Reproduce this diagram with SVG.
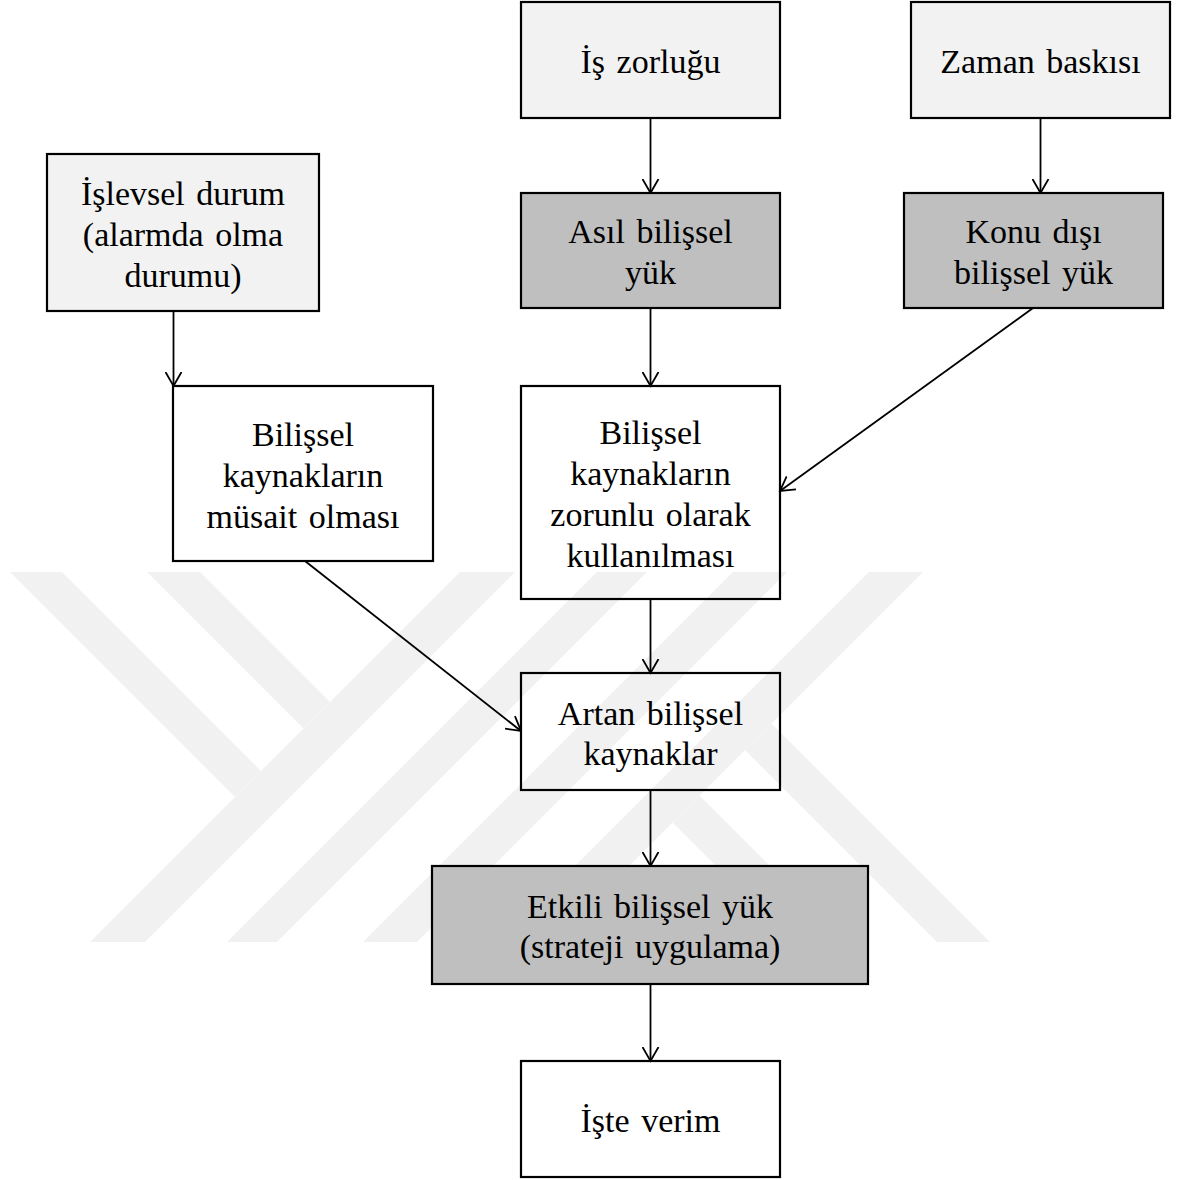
<svg xmlns="http://www.w3.org/2000/svg" width="1182" height="1180" viewBox="0 0 1182 1180">
  <style>
    .box { stroke: #000; stroke-width: 2.2; }
    .w { fill: none; }
    .l { fill: #f2f2f2; }
    .d { fill: #bfbfbf; }
    .t { font-family: "Liberation Serif", "Times New Roman", serif; font-size: 34px; fill: #000; text-anchor: middle; word-spacing: 3px; }
    .c { stroke: #000; stroke-width: 1.8; fill: none; marker-end: url(#arr); }
    .wm { fill: #f1f1f1; stroke: none; }
  </style>
  <defs>
    <marker id="arr" markerUnits="userSpaceOnUse" viewBox="0 0 16 18" refX="14.5" refY="9" markerWidth="16" markerHeight="18" orient="auto">
      <path d="M0.5,1 L14.5,9 L0.5,17" fill="none" stroke="#000" stroke-width="1.8"/>
    </marker>
  </defs>
  <rect width="1182" height="1180" fill="#ffffff"/>

  <g id="watermark">
    <polygon class="wm" points="460,572 515,572 145,942 90,942"/>
    <polygon class="wm" points="10,572 62,572 261,771 235,797"/>
    <polygon class="wm" points="147,572 200,572 330,702 303.5,728.5"/>
    <polygon class="wm" points="597,572 647,572 277,942 227,942"/>
    <polygon class="wm" points="733,572 787,572 417,942 363,942"/>
    <polygon class="wm" points="869,572 923,572 553,942 499,942"/>
    <polygon class="wm" points="699.5,795.5 846,942 792,942 672.5,822.5"/>
    <polygon class="wm" points="771.5,723.5 990,942 937,942 745,750"/>
  </g>

  <g id="connectors">
    <line class="c" x1="650.5" y1="118" x2="650.5" y2="193"/>
    <line class="c" x1="1040.5" y1="118" x2="1040.5" y2="193"/>
    <line class="c" x1="173.5" y1="311" x2="173.5" y2="386"/>
    <line class="c" x1="650.5" y1="308" x2="650.5" y2="386"/>
    <line class="c" x1="1033" y1="308" x2="780" y2="491"/>
    <line class="c" x1="305" y1="561" x2="521" y2="731"/>
    <line class="c" x1="650.5" y1="599" x2="650.5" y2="673"/>
    <line class="c" x1="650.5" y1="790" x2="650.5" y2="866"/>
    <line class="c" x1="650.5" y1="984" x2="650.5" y2="1061"/>
  </g>

  <g id="is-zorlugu">
    <rect class="box l" x="521" y="2" width="259" height="116"/>
    <text class="t" x="650.5" y="73">İş zorluğu</text>
  </g>
  <g id="zaman-baskisi">
    <rect class="box l" x="911" y="2" width="259" height="116"/>
    <text class="t" x="1040.5" y="73">Zaman baskısı</text>
  </g>
  <g id="islevsel-durum">
    <rect class="box l" x="47" y="154" width="272" height="157"/>
    <text class="t" x="183" y="204.5">İşlevsel durum</text>
    <text class="t" x="183" y="245.5">(alarmda olma</text>
    <text class="t" x="183" y="286.5">durumu)</text>
  </g>
  <g id="asil-bilissel-yuk">
    <rect class="box d" x="521" y="193" width="259" height="115"/>
    <text class="t" x="650.5" y="243">Asıl bilişsel</text>
    <text class="t" x="650.5" y="284">yük</text>
  </g>
  <g id="konu-disi-bilissel-yuk">
    <rect class="box d" x="904" y="193" width="259" height="115"/>
    <text class="t" x="1033.5" y="243">Konu dışı</text>
    <text class="t" x="1033.5" y="284">bilişsel yük</text>
  </g>
  <g id="kaynaklarin-musait-olmasi">
    <rect class="box w" x="173" y="386" width="260" height="175"/>
    <text class="t" x="303" y="445.5">Bilişsel</text>
    <text class="t" x="303" y="486.5">kaynakların</text>
    <text class="t" x="303" y="527.5">müsait olması</text>
  </g>
  <g id="kaynaklarin-zorunlu-kullanilmasi">
    <rect class="box w" x="521" y="386" width="259" height="213"/>
    <text class="t" x="650.5" y="444">Bilişsel</text>
    <text class="t" x="650.5" y="485">kaynakların</text>
    <text class="t" x="650.5" y="526">zorunlu olarak</text>
    <text class="t" x="650.5" y="567">kullanılması</text>
  </g>
  <g id="artan-bilissel-kaynaklar">
    <rect class="box w" x="521" y="673" width="259" height="117"/>
    <text class="t" x="650.5" y="724.5">Artan bilişsel</text>
    <text class="t" x="650.5" y="765">kaynaklar</text>
  </g>
  <g id="etkili-bilissel-yuk">
    <rect class="box d" x="432" y="866" width="436" height="118"/>
    <text class="t" x="650" y="918">Etkili bilişsel yük</text>
    <text class="t" x="650" y="958">(strateji uygulama)</text>
  </g>
  <g id="iste-verim">
    <rect class="box w" x="521" y="1061" width="259" height="116"/>
    <text class="t" x="650.5" y="1132">İşte verim</text>
  </g>
</svg>
